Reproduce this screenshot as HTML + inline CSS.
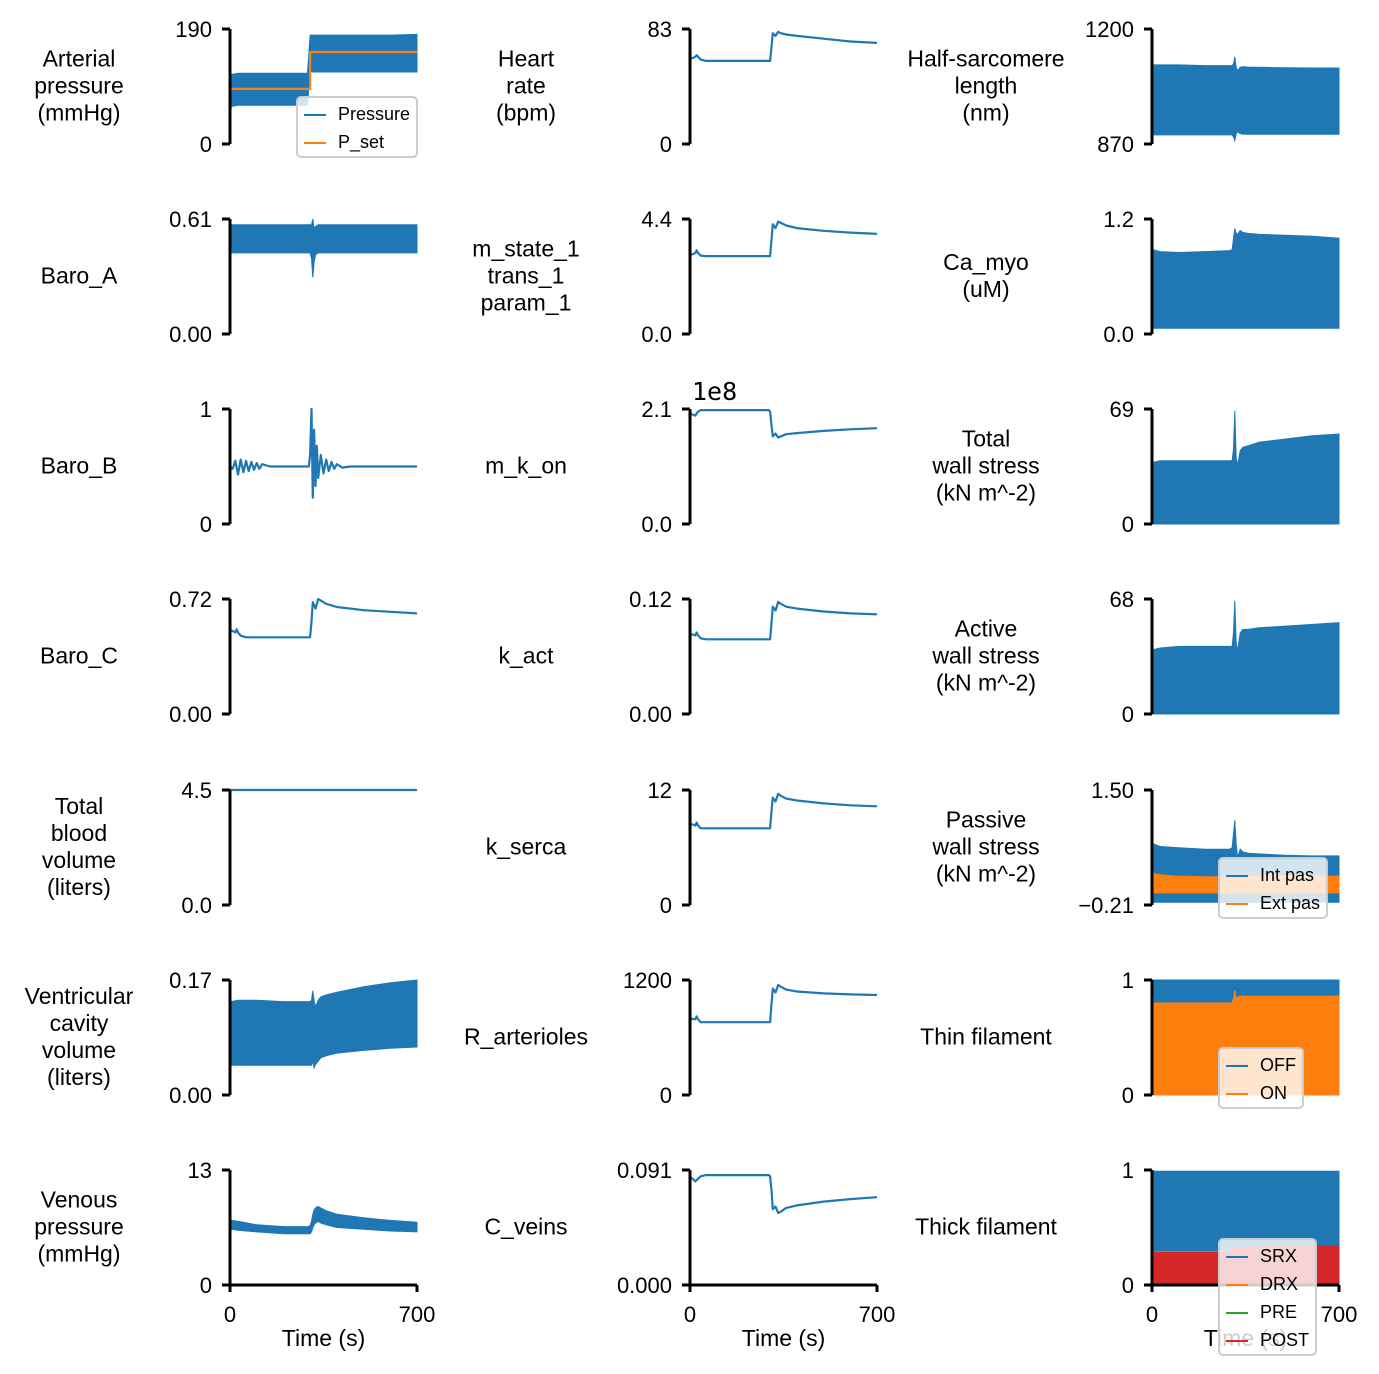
<!DOCTYPE html>
<html><head><meta charset="utf-8">
<style>
body{margin:0;background:#fff;}
#wrap{position:relative;width:1379px;height:1374px;overflow:hidden;font-family:"Liberation Sans",Arial,sans-serif;}
svg{position:absolute;left:0;top:0;}
.legend{position:absolute;background:rgba(255,255,255,0.8);border:2px solid #ccc;border-radius:5px;font-size:18px;line-height:28px;padding:2px 6px 0 6px;}
.legend div{white-space:nowrap;}
.legend span{display:inline-block;width:22px;height:2px;vertical-align:middle;margin-right:12px;}
</style></head><body>
<div id="wrap">
<svg id="fig" width="1379" height="1374"></svg>
<div class="legend" style="left:296px;top:96px;">
<div><span style="background:#1f77b4"></span>Pressure</div>
<div><span style="background:#ff7f0e"></span>P_set</div></div>
<div class="legend" style="left:1218px;top:857px;">
<div><span style="background:#1f77b4"></span>Int pas</div>
<div><span style="background:#ff7f0e"></span>Ext pas</div></div>
<div class="legend" style="left:1218px;top:1047px;">
<div><span style="background:#1f77b4"></span>OFF</div>
<div><span style="background:#ff7f0e"></span>ON</div></div>
<div class="legend" style="left:1218px;top:1238px;">
<div><span style="background:#1f77b4"></span>SRX</div>
<div><span style="background:#ff7f0e"></span>DRX</div>
<div><span style="background:#2ca02c"></span>PRE</div>
<div><span style="background:#d62728"></span>POST</div></div>
</div>
<script>
// ---- data ----
const tLine=[0,10,20,25,30,40,60,100,200,295,300,305,310,320,330,340,360,400,500,600,700];
const heartRate=[62,62,63,64,63,61,60,60,60,60,60,70,80,78,81,80,79,78,76,74,73];
const mState=[3.05,3.05,3.1,3.2,3.1,3.0,2.98,2.98,2.98,2.98,2.98,3.6,4.2,4.05,4.3,4.25,4.15,4.05,3.95,3.88,3.83];
const mKon=[2.02,2.0,1.98,2.02,2.05,2.08,2.08,2.08,2.08,2.08,2.05,1.8,1.6,1.65,1.58,1.6,1.64,1.66,1.70,1.73,1.75];
const baroC=[0.52,0.52,0.51,0.53,0.51,0.49,0.48,0.48,0.48,0.48,0.48,0.58,0.70,0.66,0.72,0.71,0.69,0.67,0.65,0.64,0.63];
const kAct=[0.083,0.083,0.082,0.085,0.082,0.079,0.078,0.078,0.078,0.078,0.078,0.095,0.112,0.108,0.117,0.115,0.112,0.110,0.107,0.105,0.104];
const kSerca=[8.4,8.4,8.3,8.6,8.3,8.0,8.0,8.0,8.0,8.0,8.0,9.8,11.2,10.8,11.6,11.4,11.1,10.9,10.6,10.4,10.3];
const rArt=[795,795,790,820,790,760,760,760,760,760,760,950,1110,1070,1148,1130,1100,1080,1060,1050,1043];
const cVeins=[0.085,0.084,0.082,0.083,0.084,0.086,0.087,0.087,0.087,0.087,0.086,0.075,0.060,0.062,0.057,0.058,0.061,0.063,0.066,0.068,0.0695];
const tSet=[0,300,300,700];
const pSet=[91,91,152,152];
const tBlood=[0,700];
const bloodVol=[4.5,4.5];
const tBaroB=[0,10,20,30,40,50,60,70,80,90,100,110,120,150,295,300,305,310,315,320,325,330,340,350,360,370,380,390,400,420,450,700];
const baroB=[0.5,0.48,0.55,0.43,0.56,0.45,0.55,0.46,0.54,0.47,0.53,0.48,0.52,0.5,0.5,0.6,1.0,0.23,0.82,0.33,0.68,0.40,0.60,0.44,0.56,0.46,0.54,0.48,0.52,0.49,0.5,0.5];
const tBand=[0,5,30,100,200,290,300,305,310,315,320,330,340,360,400,500,600,700];
const artLo=[40,62,64,64,64,64,120,120,119,119,119,119,119,119,119,119,119,119];
const artHi=[110,115,117,117,117,117,180,180,180,180,180,180,180,180,180,180,180,181];
const hsLo=[896,896,896,896,896,896,896,890,880,900,905,900,898,898,898,898,898,898];
const hsHi=[1097,1097,1097,1097,1095,1095,1095,1100,1120,1090,1080,1090,1092,1090,1090,1089,1088,1088];
const baroALo=[0.43,0.43,0.43,0.43,0.43,0.43,0.43,0.40,0.30,0.38,0.42,0.43,0.43,0.43,0.43,0.43,0.43,0.43];
const baroAHi=[0.57,0.58,0.58,0.58,0.58,0.58,0.58,0.58,0.61,0.56,0.57,0.58,0.58,0.58,0.58,0.58,0.58,0.58];
const caLo=[0.06,0.06,0.06,0.06,0.06,0.06,0.06,0.06,0.06,0.06,0.06,0.06,0.06,0.06,0.06,0.06,0.06,0.06];
const caHi=[0.88,0.88,0.86,0.85,0.86,0.87,0.88,1.0,1.1,1.05,1.04,1.08,1.06,1.05,1.04,1.03,1.02,1.0];
const twsLo=[0,0,0,0,0,0,0,0,0,0,0,0,0,0,0,0,0,0];
const twsHi=[36,37,38,38,38,38,38,45,68,40,35,44,46,47,49,51,53,54];
const awsHi=[36,38,39,40,40,40,40,48,67,42,37,48,50,50,51,52,53,54];
const intLo=[-0.17,-0.17,-0.17,-0.17,-0.17,-0.17,-0.17,-0.17,-0.17,-0.17,-0.17,-0.17,-0.17,-0.17,-0.17,-0.17,-0.17,-0.17];
const intHi=[0.68,0.70,0.66,0.64,0.62,0.62,0.64,0.85,1.05,0.70,0.50,0.62,0.58,0.56,0.55,0.53,0.52,0.52];
const extLo=[-0.03,-0.03,-0.03,-0.03,-0.03,-0.03,-0.03,-0.03,-0.03,-0.03,-0.03,-0.03,-0.03,-0.03,-0.03,-0.03,-0.03,-0.03];
const extHi=[0.24,0.26,0.24,0.22,0.21,0.21,0.21,0.24,0.26,0.22,0.20,0.22,0.22,0.22,0.22,0.22,0.22,0.22];
const vvLo=[0.044,0.044,0.044,0.044,0.044,0.044,0.044,0.044,0.050,0.040,0.045,0.050,0.055,0.058,0.062,0.066,0.069,0.071];
const vvHi=[0.135,0.138,0.140,0.140,0.138,0.138,0.138,0.140,0.154,0.140,0.130,0.140,0.145,0.148,0.152,0.160,0.166,0.170];
const offLo=[0.78,0.78,0.78,0.78,0.78,0.78,0.78,0.78,0.80,0.80,0.80,0.80,0.80,0.80,0.80,0.80,0.80,0.80];
const offHi=[1,1,1,1,1,1,1,1,1,1,1,1,1,1,1,1,1,1];
const onLo=[0,0,0,0,0,0,0,0,0,0,0,0,0,0,0,0,0,0];
const onHi=[0.79,0.80,0.80,0.80,0.80,0.80,0.80,0.84,0.91,0.84,0.85,0.86,0.86,0.86,0.86,0.86,0.86,0.86];
const srxLo=[0.30,0.30,0.30,0.30,0.30,0.30,0.30,0.30,0.30,0.30,0.30,0.30,0.30,0.30,0.30,0.30,0.30,0.30];
const srxHi=[0.99,0.99,0.99,0.99,0.99,0.99,0.99,0.99,0.99,0.99,0.99,0.99,0.99,0.99,0.99,0.99,0.99,0.99];
const postLo=[0,0,0,0,0,0,0,0,0,0,0,0,0,0,0,0,0,0];
const postHi=[0.29,0.29,0.29,0.29,0.29,0.29,0.30,0.32,0.33,0.32,0.32,0.33,0.33,0.33,0.33,0.34,0.34,0.34];
const vpLo=[6.0,6.3,6.2,6.0,5.8,5.8,5.8,6.0,6.5,6.8,7.0,7.2,7.0,6.8,6.5,6.3,6.1,6.0];
const vpHi=[7.2,7.3,7.2,6.8,6.6,6.6,6.7,7.2,8.0,8.5,8.7,8.9,8.7,8.4,8.0,7.6,7.3,7.1];
// ---- layout ----
const colX=[230,690,1152], rowY=[29,219,409,599,790,980,1170], PW=187, PH=115;
const BLUE="#1f77b4", ORANGE="#ff7f0e", RED="#d62728";
const panels=[
 {c:0,r:0,min:0,max:190,lo:"0",hi:"190",label:["Arterial","pressure","(mmHg)"],name:"arterial-pressure",bands:[[tBand,artLo,artHi,BLUE]],lines:[[tSet,pSet,ORANGE]]},
 {c:1,r:0,min:0,max:83,lo:"0",hi:"83",label:["Heart","rate","(bpm)"],name:"heart-rate",lines:[[tLine,heartRate,BLUE]]},
 {c:2,r:0,min:870,max:1200,lo:"870",hi:"1200",label:["Half-sarcomere","length","(nm)"],name:"half-sarcomere",bands:[[tBand,hsLo,hsHi,BLUE]]},
 {c:0,r:1,min:0,max:0.61,lo:"0.00",hi:"0.61",label:["Baro_A"],name:"baro-a",bands:[[tBand,baroALo,baroAHi,BLUE]]},
 {c:1,r:1,min:0,max:4.4,lo:"0.0",hi:"4.4",label:["m_state_1","trans_1","param_1"],name:"m-state",lines:[[tLine,mState,BLUE]]},
 {c:2,r:1,min:0,max:1.2,lo:"0.0",hi:"1.2",label:["Ca_myo","(uM)"],name:"ca-myo",bands:[[tBand,caLo,caHi,BLUE]]},
 {c:0,r:2,min:0,max:1,lo:"0",hi:"1",label:["Baro_B"],name:"baro-b",lines:[[tBaroB,baroB,BLUE]]},
 {c:1,r:2,min:0,max:2.1,lo:"0.0",hi:"2.1",label:["m_k_on"],name:"m-k-on",lines:[[tLine,mKon,BLUE]]},
 {c:2,r:2,min:0,max:69,lo:"0",hi:"69",label:["Total","wall stress","(kN m^-2)"],name:"total-wall-stress",bands:[[tBand,twsLo,twsHi,BLUE]]},
 {c:0,r:3,min:0,max:0.72,lo:"0.00",hi:"0.72",label:["Baro_C"],name:"baro-c",lines:[[tLine,baroC,BLUE]]},
 {c:1,r:3,min:0,max:0.12,lo:"0.00",hi:"0.12",label:["k_act"],name:"k-act",lines:[[tLine,kAct,BLUE]]},
 {c:2,r:3,min:0,max:68,lo:"0",hi:"68",label:["Active","wall stress","(kN m^-2)"],name:"active-wall-stress",bands:[[tBand,twsLo,awsHi,BLUE]]},
 {c:0,r:4,min:0,max:4.5,lo:"0.0",hi:"4.5",label:["Total","blood","volume","(liters)"],name:"blood-volume",lines:[[tBlood,bloodVol,BLUE]]},
 {c:1,r:4,min:0,max:12,lo:"0",hi:"12",label:["k_serca"],name:"k-serca",lines:[[tLine,kSerca,BLUE]]},
 {c:2,r:4,min:-0.21,max:1.5,lo:"\u22120.21",hi:"1.50",label:["Passive","wall stress","(kN m^-2)"],name:"passive-wall-stress",bands:[[tBand,intLo,intHi,BLUE],[tBand,extLo,extHi,ORANGE]]},
 {c:0,r:5,min:0,max:0.17,lo:"0.00",hi:"0.17",label:["Ventricular","cavity","volume","(liters)"],name:"ventricular-volume",bands:[[tBand,vvLo,vvHi,BLUE]]},
 {c:1,r:5,min:0,max:1200,lo:"0",hi:"1200",label:["R_arterioles"],name:"r-arterioles",lines:[[tLine,rArt,BLUE]]},
 {c:2,r:5,min:0,max:1,lo:"0",hi:"1",label:["Thin filament"],name:"thin-filament",bands:[[tBand,offLo,offHi,BLUE],[tBand,onLo,onHi,ORANGE]]},
 {c:0,r:6,min:0,max:13,lo:"0",hi:"13",label:["Venous","pressure","(mmHg)"],name:"venous-pressure",bands:[[tBand,vpLo,vpHi,BLUE]]},
 {c:1,r:6,min:0,max:0.091,lo:"0.000",hi:"0.091",label:["C_veins"],name:"c-veins",lines:[[tLine,cVeins,BLUE]]},
 {c:2,r:6,min:0,max:1,lo:"0",hi:"1",label:["Thick filament"],name:"thick-filament",bands:[[tBand,srxLo,srxHi,BLUE],[tBand,postLo,postHi,RED]]}
];
const labelX=[79,526,986];
const svg=document.getElementById('fig'), NS="http://www.w3.org/2000/svg";
function mk(tag,attrs,parent){const e=document.createElementNS(NS,tag);for(const k in attrs)e.setAttribute(k,attrs[k]);(parent||svg).appendChild(e);return e;}
panels.forEach(p=>{
 const x0=colX[p.c], y0=rowY[p.r];
 const sx=t=>x0+t/700*PW, sy=v=>y0+PH-(v-p.min)/(p.max-p.min)*PH;
 const g=mk('g',{});
 
 
 (p.bands||[]).forEach((b,i)=>{
  const [T,lo,hi,col]=b; let d="";
  T.forEach((t,k)=>{d+=(k?"L":"M")+sx(t).toFixed(1)+","+sy(hi[k]).toFixed(1);});
  for(let k=T.length-1;k>=0;k--)d+="L"+sx(T[k]).toFixed(1)+","+sy(lo[k]).toFixed(1);
  const e=mk('path',{d:d+"Z",fill:col,stroke:col,'stroke-width':1},g);
  
  
 });
 (p.lines||[]).forEach((l,i)=>{
  const [T,V,col]=l;
  const pts=T.map((t,k)=>sx(t).toFixed(1)+","+sy(V[k]).toFixed(1)).join(" ");
  const e=mk('polyline',{points:pts,fill:'none',stroke:col,'stroke-width':2.2,'stroke-linejoin':'round'},g);
  
  
 });
 const ax=mk('path',{d:`M${x0},${y0}V${y0+PH}M${x0-8},${y0}H${x0}M${x0-8},${y0+PH}H${x0}`,stroke:'#000','stroke-width':3,fill:'none'},g);
 
 
 [[p.hi,y0],[p.lo,y0+PH]].forEach(([s,y],i)=>{
  const t=mk('text',{x:x0-18,y:y+8,'text-anchor':'end','font-size':22,fill:'#000'},g);t.textContent=s;
  
  
 });
 const n=p.label.length, lh=27, cy=y0+PH/2-(n-1)*lh/2+7;
 const lt=mk('text',{x:labelX[p.c],y:cy,'text-anchor':'middle','font-size':23,fill:'#000'},g);
 
 
 p.label.forEach((s,i)=>{const ts=mk('tspan',{x:labelX[p.c],dy:i?lh:0},lt);ts.textContent=s;});
 if(p.r===6){
  const xa=mk('path',{d:`M${x0},${y0+PH}H${x0+PW}M${x0},${y0+PH}v7M${x0+PW},${y0+PH}v7`,stroke:'#000','stroke-width':3,fill:'none'},g);
  
  
  [["0",x0],["700",x0+PW]].forEach(([s,x])=>{const t=mk('text',{x:x,y:1322,'text-anchor':'middle','font-size':22},g);t.textContent=s;
   
   });
  const xt=mk('text',{x:x0+PW/2,y:1346,'text-anchor':'middle','font-size':23},g);xt.textContent="Time (s)";
  
  
 }
});
const ex=mk('text',{x:692,y:400,'font-size':25,'font-family':'DejaVu Sans Mono, monospace'});ex.textContent="1e8";


</script>
</body></html>
